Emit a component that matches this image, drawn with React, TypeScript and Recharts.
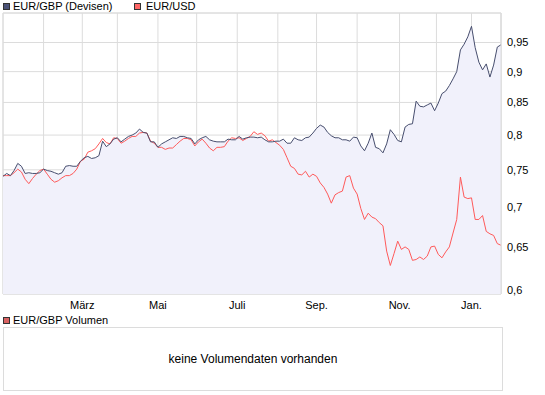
import { ComposedChart, Area, Line, XAxis, YAxis, CartesianGrid, ReferenceArea } from "recharts";

// every second trading session, Jan 2008 - Jan 2009
const eurGbp = [
  0.741, 0.745, 0.742, 0.749, 0.759, 0.755, 0.745, 0.746, 0.745, 0.745,
  0.746, 0.751, 0.749, 0.748, 0.746, 0.744, 0.746, 0.755, 0.756, 0.755,
  0.755, 0.762, 0.767, 0.769, 0.766, 0.767, 0.770, 0.791, 0.783, 0.787,
  0.794, 0.796, 0.790, 0.794, 0.798, 0.800, 0.803, 0.809, 0.804, 0.803,
  0.790, 0.790, 0.782, 0.787, 0.790, 0.793, 0.796, 0.795, 0.798, 0.798,
  0.796, 0.795, 0.787, 0.793, 0.796, 0.798, 0.793, 0.791, 0.790, 0.790,
  0.790, 0.794, 0.793, 0.793, 0.798, 0.794, 0.796, 0.797, 0.797, 0.796,
  0.797, 0.793, 0.790, 0.790, 0.791, 0.791, 0.794, 0.788, 0.788, 0.796,
  0.793, 0.792, 0.796, 0.797, 0.803, 0.810, 0.815, 0.812, 0.804, 0.799,
  0.796, 0.796, 0.793, 0.793, 0.791, 0.797, 0.796, 0.784, 0.777, 0.788,
  0.803, 0.782, 0.780, 0.774, 0.787, 0.808, 0.801, 0.792, 0.790, 0.812,
  0.816, 0.817, 0.852, 0.844, 0.843, 0.846, 0.849, 0.837, 0.849, 0.864,
  0.868, 0.877, 0.888, 0.900, 0.937, 0.947, 0.960, 0.979, 0.941, 0.916,
  0.903, 0.913, 0.891, 0.911, 0.942, 0.946,
];

const eurUsd = [
  0.742, 0.742, 0.742, 0.746, 0.751, 0.747, 0.737, 0.731, 0.738, 0.744,
  0.749, 0.751, 0.744, 0.737, 0.733, 0.735, 0.739, 0.742, 0.742, 0.745,
  0.751, 0.762, 0.765, 0.775, 0.777, 0.780, 0.787, 0.795, 0.789, 0.787,
  0.796, 0.795, 0.788, 0.791, 0.795, 0.798, 0.798, 0.803, 0.804, 0.803,
  0.791, 0.788, 0.782, 0.782, 0.779, 0.781, 0.781, 0.786, 0.791, 0.795,
  0.795, 0.793, 0.784, 0.790, 0.794, 0.788, 0.781, 0.777, 0.782, 0.782,
  0.783, 0.791, 0.796, 0.795, 0.796, 0.792, 0.795, 0.798, 0.805, 0.801,
  0.803, 0.799, 0.791, 0.793, 0.789, 0.785, 0.779, 0.767, 0.755, 0.752,
  0.744, 0.743, 0.748, 0.740, 0.744, 0.741, 0.732, 0.726, 0.717, 0.705,
  0.716, 0.719, 0.721, 0.740, 0.742, 0.725, 0.717, 0.698, 0.684, 0.692,
  0.687, 0.685, 0.680, 0.676, 0.645, 0.628, 0.642, 0.657, 0.647, 0.650,
  0.647, 0.634, 0.635, 0.638, 0.635, 0.639, 0.650, 0.651, 0.641, 0.637,
  0.644, 0.650, 0.667, 0.684, 0.740, 0.713, 0.711, 0.712, 0.684, 0.684,
  0.689, 0.669, 0.666, 0.664, 0.654, 0.652,
];

const monthTicks = [22, 43, 62, 84, 105, 127, 149, 170, 192, 215, 235, 254];
const monthLabels = ["", "März", "", "Mai", "", "Juli", "", "Sep.", "", "Nov.", "", "Jan."];
const priceTicks = [0.6, 0.65, 0.7, 0.75, 0.8, 0.85, 0.9, 0.95];

const data = eurGbp.map((v, i) => ({ session: i * 2, gbp: v, usd: eurUsd[i] }));
const lastSession = data[data.length - 1].session;

const FONT = "'Liberation Sans', Arial, sans-serif";
const GRID = "#dcdcdc";

function Swatch({ color, left, top }: { color: string; left: number; top: number }) {
  return (
    <div
      style={{
        position: "absolute",
        left,
        top,
        width: 7,
        height: 7,
        boxSizing: "border-box",
        border: "1px solid #333",
        background: color,
      }}
    />
  );
}

export default function App() {
  const fmtMonth = (v: number) => {
    const i = monthTicks.indexOf(v);
    return i >= 0 ? monthLabels[i] : "";
  };

  return (
    <div
      style={{
        position: "absolute",
        left: 0,
        top: 0,
        width: 545,
        height: 395,
        background: "#fff",
        fontFamily: FONT,
        fontSize: 11,
        color: "#000",
      }}
    >
      <Swatch color="#4b5378" left={3} top={3} />
      <div style={{ position: "absolute", left: 13, top: 0, lineHeight: "13px" }}>EUR/GBP (Devisen)</div>
      <Swatch color="#ff6666" left={134} top={3} />
      <div style={{ position: "absolute", left: 146, top: 0, lineHeight: "13px" }}>EUR/USD</div>

      <div style={{ position: "absolute", left: 0, top: 0 }}>
        <ComposedChart
          width={545}
          height={315}
          data={data}
          margin={{ top: 13, right: 0, bottom: 0, left: 3 }}
        >
          <CartesianGrid stroke={GRID} strokeWidth={1} />
          <XAxis
            dataKey="session"
            type="number"
            domain={[0, lastSession]}
            ticks={monthTicks}
            interval={0}
            tickFormatter={fmtMonth}
            axisLine={false}
            tickLine={false}
            tickSize={5}
            tickMargin={2}
            height={21}
            tick={{ fill: "#000", fontSize: 11, fontFamily: FONT }}
          />
          <YAxis
            orientation="right"
            type="number"
            scale="log"
            domain={[0.5956, 1.0035]}
            allowDataOverflow
            ticks={priceTicks}
            interval={0}
            tickFormatter={(v: number) => String(v).replace(".", ",")}
            axisLine={{ stroke: GRID }}
            tickLine={false}
            tickSize={4}
            tickMargin={2}
            width={44}
            tick={{ fill: "#000", fontSize: 11, fontFamily: FONT }}
          />
          <ReferenceArea x1={0} x2={lastSession} fill="none" stroke={GRID} ifOverflow="visible" />
          <Area
            dataKey="gbp"
            type="linear"
            stroke="none"
            fill="#f1f1fb"
            fillOpacity={1}
            isAnimationActive={false}
            dot={false}
            activeDot={false}
          />
          <Line
            dataKey="usd"
            type="linear"
            stroke="#ff5a5a"
            strokeWidth={1}
            dot={false}
            activeDot={false}
            isAnimationActive={false}
          />
          <Line
            dataKey="gbp"
            type="linear"
            stroke="#474e6e"
            strokeWidth={1}
            dot={false}
            activeDot={false}
            isAnimationActive={false}
          />
        </ComposedChart>
      </div>

      <Swatch color="#d96262" left={3} top={317} />
      <div style={{ position: "absolute", left: 13, top: 314, lineHeight: "13px" }}>EUR/GBP Volumen</div>
      <div
        style={{
          position: "absolute",
          left: 3,
          top: 327,
          width: 500,
          height: 64,
          boxSizing: "border-box",
          border: `1px solid ${GRID}`,
          display: "flex",
          alignItems: "center",
          justifyContent: "center",
          fontSize: 12,
        }}
      >
        keine Volumendaten vorhanden
      </div>
    </div>
  );
}
